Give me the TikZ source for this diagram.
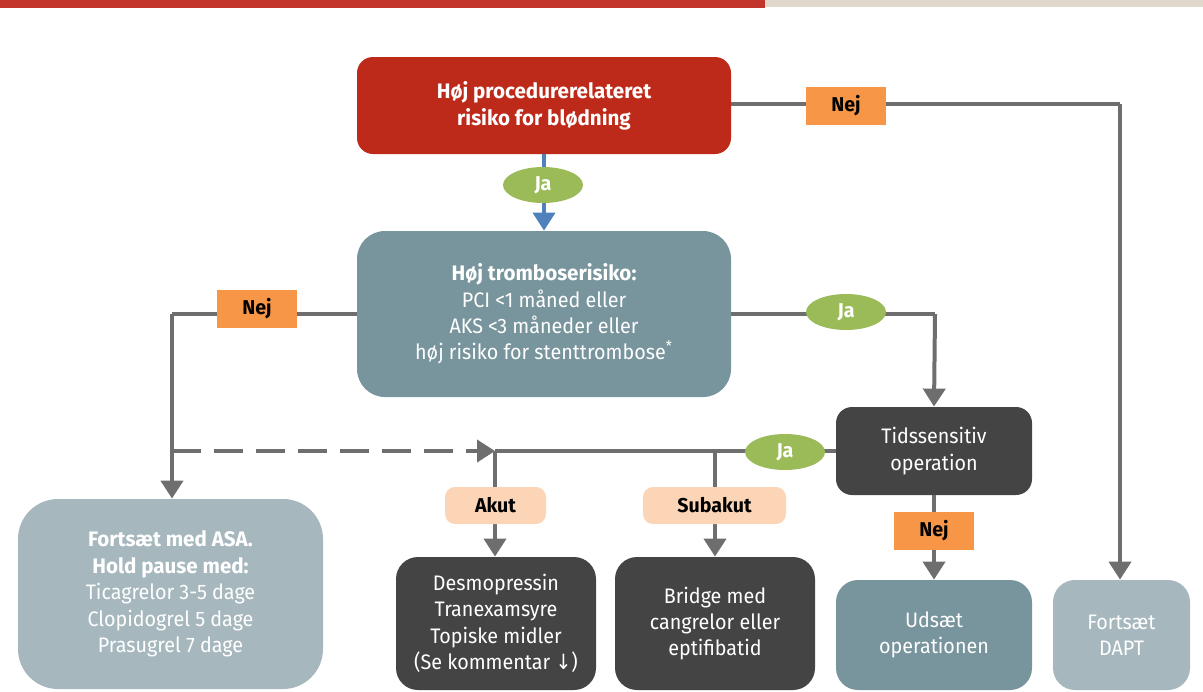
\documentclass[tikz,border=0pt]{standalone}
\usepackage{fontspec}
\setmainfont{Fira Sans}[FakeStretch=0.94, BoldFeatures={FakeStretch=0.98}]
\newfontfamily\arrowfont{DejaVu Sans}[FakeStretch=0.9]
\usepackage{xcolor}
\usepackage{tikz}
\usetikzlibrary{calc}
\usetikzlibrary{arrows.meta}
\usetikzlibrary{shapes}
\usetikzlibrary{shapes.geometric}
\definecolor{barred}{HTML}{C3352A}
\definecolor{barsand}{HTML}{E0D8CA}
\definecolor{bleedred}{HTML}{BE2A1A}
\definecolor{teal}{HTML}{78949C}
\definecolor{paleteal}{HTML}{A6B8BE}
\definecolor{darkbox}{HTML}{444444}
\definecolor{jagreen}{HTML}{9BBB59}
\definecolor{nejorange}{HTML}{F79646}
\definecolor{peach}{HTML}{FBD5B5}
\definecolor{flowblue}{HTML}{4F81BD}
\definecolor{flowgray}{HTML}{6E6E6E}
\tikzset{>={Triangle[width=11pt,length=9pt]}}
\tikzstyle{box} = [draw=none, align=center, text=white, inner sep=2]
\tikzstyle{ja} = [ellipse, draw=none, fill=jagreen, text=white, font=\bfseries, minimum width=40pt, minimum height=18pt, inner sep=0]
\tikzstyle{nej} = [rectangle, draw=none, fill=nejorange, font=\bfseries, minimum width=40pt, minimum height=19pt, inner sep=0]
\tikzstyle{tag} = [rectangle, rounded corners=5pt, draw=none, fill=peach, font=\bfseries, minimum height=18.5pt, inner sep=0]
\tikzstyle{flow} = [-, line width=2pt, draw=flowgray]

\begin{document}
\begin{tikzpicture}[x=0.5pt, y=-0.5pt, font=\fontsize{10.5}{13.2}\selectfont]
\useasboundingbox (0,0) rectangle (1203,691);
\fill [barred] (0,0) rectangle (765,8);
\fill [barsand] (765,0) rectangle (1203,7);

\node [box, fill=bleedred, rounded corners=8pt, minimum width=187pt, minimum height=48.5pt, font=\fontsize{10.5}{13.5}\selectfont\bfseries]  (R) at (544, 105.5) {Høj procedurerelateret\\risiko for blødning};
\node [box, fill=teal, rounded corners=14pt, minimum width=187pt, minimum height=83pt]  (T) at (544, 314) {\textbf{Høj tromboserisiko:}\\PCI <1 måned eller\\AKS <3 måneder eller\\høj risiko for stenttrombose\textsuperscript{*}};
\node [box, fill=darkbox, rounded corners=8pt, minimum width=98pt, minimum height=44pt]  (S) at (934, 451) {Tidssensitiv\\operation};
\node [box, fill=paleteal, rounded corners=20pt, minimum width=152.5pt, minimum height=95pt]  (A) at (170.5, 594) {\textbf{Fortsæt med ASA.}\\\textbf{Hold pause med:}\\Ticagrelor 3-5 dage\\Clopidogrel 5 dage\\Prasugrel 7 dage};
\node [box, fill=darkbox, rounded corners=11pt, minimum width=100pt, minimum height=66.5pt]  (D) at (496, 623.5) {Desmopressin\\Tranexamsyre\\Topiske midler\\(Se kommentar {\arrowfont ↓})};
\node [box, fill=darkbox, rounded corners=11pt, minimum width=100pt, minimum height=66.5pt]  (B) at (715, 623.5) {Bridge med\\cangrelor eller\\eptifibatid};
\node [box, fill=teal, rounded corners=11pt, minimum width=98pt, minimum height=55pt]  (U) at (934, 635) {Udsæt\\operationen};
\node [box, fill=paleteal, rounded corners=11pt, minimum width=68.5pt, minimum height=55pt]  (F) at (1121.5, 635) {Fortsæt\\DAPT};

\coordinate (c1) at (1120, 104);
\coordinate (c2) at (172, 314);
\coordinate (c3) at (935, 314);
\coordinate (c4) at (495, 451);
\coordinate (c5) at (715, 451);
\coordinate (c6) at (172, 451);

\draw [flow] (R.east |- c1) -- (c1);
\draw [flow, ->] (c1) -- (c1 |- F.north);
\draw [-, line width=2pt, draw=flowblue, ->] (R.south) -- (T.north);
\draw [flow] (T.west |- c2) -- (c2);
\draw [flow, ->] (c2) -- (c2 |- A.north);
\draw [flow] (T.east |- c3) -- (c3);
\draw [flow, ->] (c3) -- (S.north);
\draw [flow] (S.west |- c4) -- (c4);
\draw [flow, dashed, dash pattern=on 14.5pt off 6.5pt, ->] (c6) -- (c4);
\draw [flow, ->] (c4) -- (c4 |- D.north);
\draw [flow, ->] (c5) -- (c5 |- B.north);
\draw [flow, ->] (S.south) -- (U.north);

\node [nej] (n1) at (846, 106) {Nej};
\node [ja] (j1) at (543, 185) {Ja};
\node [nej] (n2) at (257, 309) {Nej};
\node [ja] (j2) at (846, 312) {Ja};
\node [ja] (j3) at (785, 452) {Ja};
\node [tag, minimum width=50.5pt] (t1) at (495.5, 505.5) {Akut};
\node [tag, minimum width=71.5pt] (t2) at (714.5, 505.5) {Subakut};
\node [nej] (n3) at (934, 531) {Nej};
\end{tikzpicture}
\end{document}
